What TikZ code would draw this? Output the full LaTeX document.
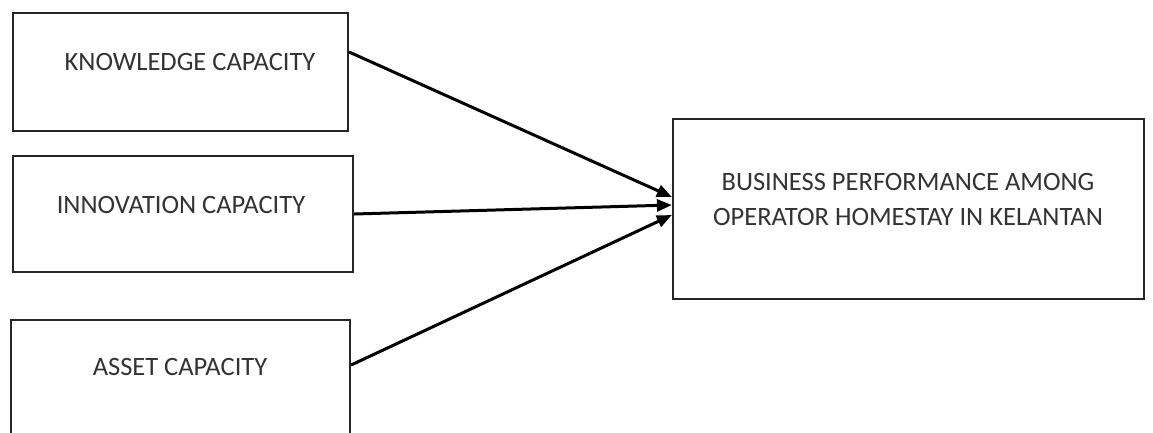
\documentclass[tikz,border=0pt]{standalone}
\usepackage{fontspec}
\setmainfont{Carlito}
\usetikzlibrary{arrows.meta,calc}
\tikzset{
  box/.style={draw=black!85, line width=2.2pt, rectangle, inner sep=0pt},
  lbl/.style={font=\fontsize{26.5}{35}\selectfont, text=black!80, align=center, inner sep=0pt},
  conn/.style={draw=black, line width=3pt, -{Triangle[length=15pt,width=12pt]}}
}
\begin{document}
\begin{tikzpicture}[x=1pt,y=-1pt]
\useasboundingbox (0,0) rectangle (1153,432);
\clip (0,0) rectangle (1153,432);
\node[box, minimum width=335pt, minimum height=118pt] (b1) at (180.5,72) {};
\node[box, minimum width=340pt, minimum height=116pt] (b2) at (183,214) {};
\node[box, minimum width=339pt, minimum height=124pt] (b3) at (180.5,382) {};
\node[box, minimum width=471pt, minimum height=180pt] (r) at (908.5,209) {};
\node[lbl] (t1) at (190,62) {KNOWLEDGE CAPACITY};
\node[lbl] (t2) at (181,205) {INNOVATION CAPACITY};
\node[lbl] (t3) at (180,367) {ASSET CAPACITY};
\node[lbl] (t4) at (908,199.5) {BUSINESS PERFORMANCE AMONG\\OPERATOR HOMESTAY IN KELANTAN};
\coordinate (s1) at (b1.east |- 0,52);
\coordinate (s2) at (b2.east |- 0,214);
\coordinate (s3) at (b3.east |- 0,365);
\coordinate (e1) at (r.west |- 0,197);
\coordinate (e2) at (r.west |- 0,205);
\coordinate (e3) at (r.west |- 0,215);
\draw[conn] (s1) -- (e1);
\draw[conn] (s2) -- (e2);
\draw[conn] (s3) -- (e3);
\end{tikzpicture}
\end{document}
